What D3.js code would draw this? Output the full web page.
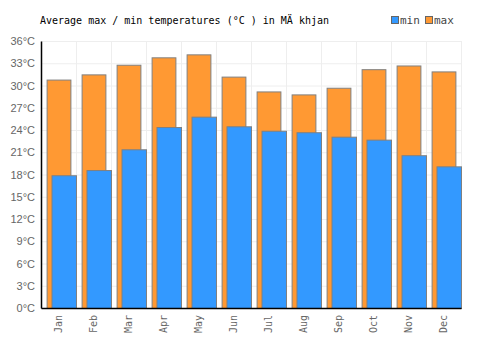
<!DOCTYPE html>
<html>
<head>
<meta charset="utf-8">
<script src="https://cdn.jsdelivr.net/npm/d3@7"></script>
<style>
  body { margin: 0; background: #fff; }
  svg text { font-family: "DejaVu Sans Mono", monospace; }
</style>
</head>
<body>
<div id="container"></div>
<script>
/* CONSTANTS AND GLOBALS */
const width = 500,
      height = 350,
      margin = {top: 41, bottom: 42, left: 41, right: 39};

// data
const months = ["Jan","Feb","Mar","Apr","May","Jun","Jul","Aug","Sep","Oct","Nov","Dec"];
const maxTemps = [30.8, 31.5, 32.8, 33.8, 34.2, 31.2, 29.2, 28.8, 29.7, 32.2, 32.7, 31.9];
const minTemps = [17.9, 18.6, 21.4, 24.4, 25.8, 24.5, 23.9, 23.7, 23.1, 22.7, 20.6, 19.1];
const yTicks = [0, 3, 6, 9, 12, 15, 18, 21, 24, 27, 30, 33, 36];
const title = "Average max / min temperatures (°C ) in MÄ khjan";

const svg = d3.select("#container")
  .append("svg")
  .attr("width", width)
  .attr("height", height);

// + SCALES
const xScale = d3.scaleBand()
  .domain(months)
  .range([margin.left, width - margin.right]);

const yScale = d3.scaleLinear()
  .domain([0, 36])
  .range([height - margin.bottom, margin.top]);

// gridlines
svg.append("g")
  .selectAll("line.h")
  .data(yTicks)
  .join("line")
  .attr("x1", margin.left)
  .attr("x2", width - margin.right)
  .attr("y1", d => yScale(d) + 0.5)
  .attr("y2", d => yScale(d) + 0.5)
  .attr("stroke", "#eeeeee");

svg.append("g")
  .selectAll("line.v")
  .data(months)
  .join("line")
  .attr("x1", d => xScale(d) + xScale.bandwidth() + 0.5)
  .attr("x2", d => xScale(d) + xScale.bandwidth() + 0.5)
  .attr("y1", margin.top)
  .attr("y2", height - margin.bottom)
  .attr("stroke", "#eeeeee");

const bw = xScale.bandwidth();

// max bars (behind)
svg.append("g")
  .selectAll("rect")
  .data(months)
  .join("rect")
  .attr("x", d => xScale(d) + bw * 0.16 + 0.5)
  .attr("width", bw * 0.68)
  .attr("y", (d, i) => yScale(maxTemps[i]) + 0.5)
  .attr("height", (d, i) => yScale(0) - yScale(maxTemps[i]))
  .attr("fill", "#ff9933")
  .attr("stroke", "#808080")
  .attr("stroke-width", 1);

// min bars (front)
svg.append("g")
  .selectAll("rect")
  .data(months)
  .join("rect")
  .attr("x", d => xScale(d) + bw * 0.3 + 0.5)
  .attr("width", bw * 0.7)
  .attr("y", (d, i) => yScale(minTemps[i]) + 0.5)
  .attr("height", (d, i) => yScale(0) - yScale(minTemps[i]))
  .attr("fill", "#3399ff")
  .attr("stroke", "#808080")
  .attr("stroke-width", 1);

// + AXES
const yAxis = d3.axisLeft(yScale)
  .tickValues(yTicks)
  .tickSize(0)
  .tickPadding(6)
  .tickFormat(d => d + "°C");

const yAxisGroup = svg.append("g")
  .attr("transform", `translate(${margin.left},0)`)
  .call(yAxis);
yAxisGroup.select(".domain").attr("stroke", "#000").attr("stroke-width", 1.5);
yAxisGroup.selectAll("text")
  .attr("fill", "#666")
  .style("font-family", "'Liberation Sans', Arial, sans-serif")
  .style("font-size", "11px");

const xAxis = d3.axisBottom(xScale).tickSize(0).tickPadding(0);
const xAxisGroup = svg.append("g")
  .attr("transform", `translate(0,${height - margin.bottom})`)
  .call(xAxis);
xAxisGroup.select(".domain").attr("stroke", "#000").attr("stroke-width", 1.5);
xAxisGroup.selectAll("text")
  .attr("fill", "#666")
  .style("font-size", "10px")
  .attr("transform", "rotate(-90)")
  .attr("text-anchor", "end")
  .attr("x", -7)
  .attr("y", 0)
  .attr("dy", "0.35em");

// title
svg.append("text")
  .attr("x", 40)
  .attr("y", 24)
  .style("font-size", "10px")
  .attr("fill", "#000")
  .text(title);

// legend
const legend = [{label: "min", color: "#3399ff", x: 391}, {label: "max", color: "#ff9933", x: 425}];
const lg = svg.append("g")
  .selectAll("g")
  .data(legend)
  .join("g")
  .attr("transform", d => `translate(${d.x},16)`);
lg.append("rect")
  .attr("x", 0.5).attr("y", 0.5)
  .attr("width", 7).attr("height", 7)
  .attr("fill", d => d.color)
  .attr("stroke", "#666");
lg.append("text")
  .attr("x", 9)
  .attr("y", 8)
  .style("font-size", "11px")
  .attr("fill", "#444")
  .text(d => d.label);
</script>
</body>
</html>
